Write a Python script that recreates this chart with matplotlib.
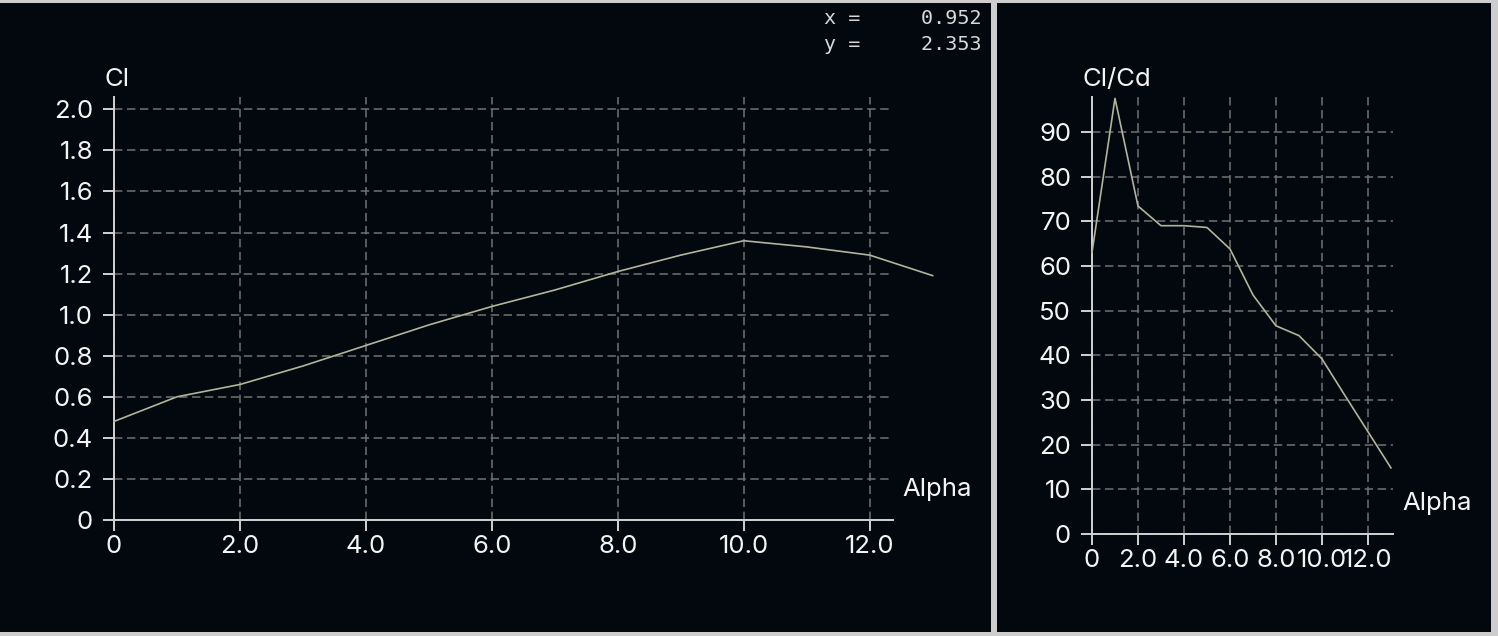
import matplotlib
matplotlib.use('Agg')
import matplotlib.pyplot as plt
from matplotlib.patches import Rectangle

# polar data
alpha = [0, 1, 2, 3, 4, 5, 6, 7, 8, 9, 10, 11, 12, 13]
cl = [0.48, 0.60, 0.66, 0.75, 0.85, 0.95, 1.04, 1.12, 1.21, 1.29, 1.36, 1.33, 1.29, 1.19]
cl_cd = [63.0, 97.5, 73.4, 69.0, 69.0, 68.6, 63.8, 53.5, 46.6, 44.4, 39.2, 31.0, 22.9, 14.8]

cl_ticks = [0, 0.2, 0.4, 0.6, 0.8, 1.0, 1.2, 1.4, 1.6, 1.8, 2.0]
clcd_ticks = [0, 10, 20, 30, 40, 50, 60, 70, 80, 90]
alpha_ticks = [0, 2, 4, 6, 8, 10, 12]
cursor_x, cursor_y = 0.952, 2.353

W, H = 1498, 636
BG = '#02080e'
LINE = '#b4b49c'
GRID = '#717171'
AXIS = '#d2d2d2'
TXT = '#f4f4f4'
FS = 18.5

plt.rcParams['font.family'] = ['Inter', 'DejaVu Sans']

fig = plt.figure(figsize=(W / 100, H / 100), dpi=100, facecolor='#cdcdcd')


def px_rect(x0, y0, x1, y1):
    # pixel box (top-left origin) -> figure fraction
    return [x0 / W, (H - y1) / H, (x1 - x0) / W, (y1 - y0) / H]


for box in [(0, 3, 991, 632), (997, 3, 1491, 632)]:
    l, b, w, h = px_rect(*box)
    fig.patches.append(Rectangle((l, b), w, h, transform=fig.transFigure,
                                 facecolor=BG, edgecolor='none', zorder=-5))


def fmt_tick(v, plain_int=False):
    if v == 0:
        return '0'
    return f'{v:.0f}' if plain_int else f'{v:.1f}'


def make_panel(box, xmax, ymax, y, yticks, ylabel, int_y):
    ax = fig.add_axes(px_rect(*box))
    ax.set_facecolor('none')
    ax.plot(alpha, y, color=LINE, lw=1.2, clip_on=False, zorder=3)
    ax.set_xlim(0, xmax)
    ax.set_ylim(0, ymax)
    ax.set_xticks(alpha_ticks)
    ax.set_xticklabels([fmt_tick(v) for v in alpha_ticks])
    ax.set_yticks(yticks)
    ax.set_yticklabels([fmt_tick(v, int_y) for v in yticks])
    for s in ['top', 'right']:
        ax.spines[s].set_visible(False)
    for s in ['left', 'bottom']:
        ax.spines[s].set_color(AXIS)
        ax.spines[s].set_linewidth(1.4)
    ax.tick_params(colors=AXIS, labelcolor=TXT, labelsize=FS, length=8, width=1.4)
    ax.tick_params(axis='y', pad=7)
    ax.tick_params(axis='x', pad=3)
    ax.grid(True, color=GRID, lw=1.1, linestyle=(0, (5.5, 3)))
    ax.set_axisbelow(True)
    ax.annotate(ylabel, xy=(0, 1), xycoords='axes fraction', xytext=(-6.5, 4),
                textcoords='offset points', ha='left', va='bottom',
                color=TXT, fontsize=FS)
    ax.annotate('Alpha', xy=(1, 0), xycoords='axes fraction', xytext=(7, 14),
                textcoords='offset points', ha='left', va='bottom',
                color=TXT, fontsize=FS)
    return ax


# left: Cl vs alpha
make_panel((114, 97, 893, 520), 12.37, 2.06, cl, cl_ticks, 'Cl', False)
# right: Cl/Cd vs alpha
make_panel((1092, 97, 1393, 534), 13.09, 97.8, cl_cd, clcd_ticks, 'Cl/Cd', True)

# cursor readout
fig.text(982 / W, 1 - 19 / H, f'x = {cursor_x:9.3f}', family='DejaVu Sans Mono',
         fontsize=14.5, color='#d8d8d8', ha='right', va='center')
fig.text(982 / W, 1 - 44 / H, f'y = {cursor_y:9.3f}', family='DejaVu Sans Mono',
         fontsize=14.5, color='#d8d8d8', ha='right', va='center')

fig.savefig('out.png', dpi=100, facecolor=fig.get_facecolor())
